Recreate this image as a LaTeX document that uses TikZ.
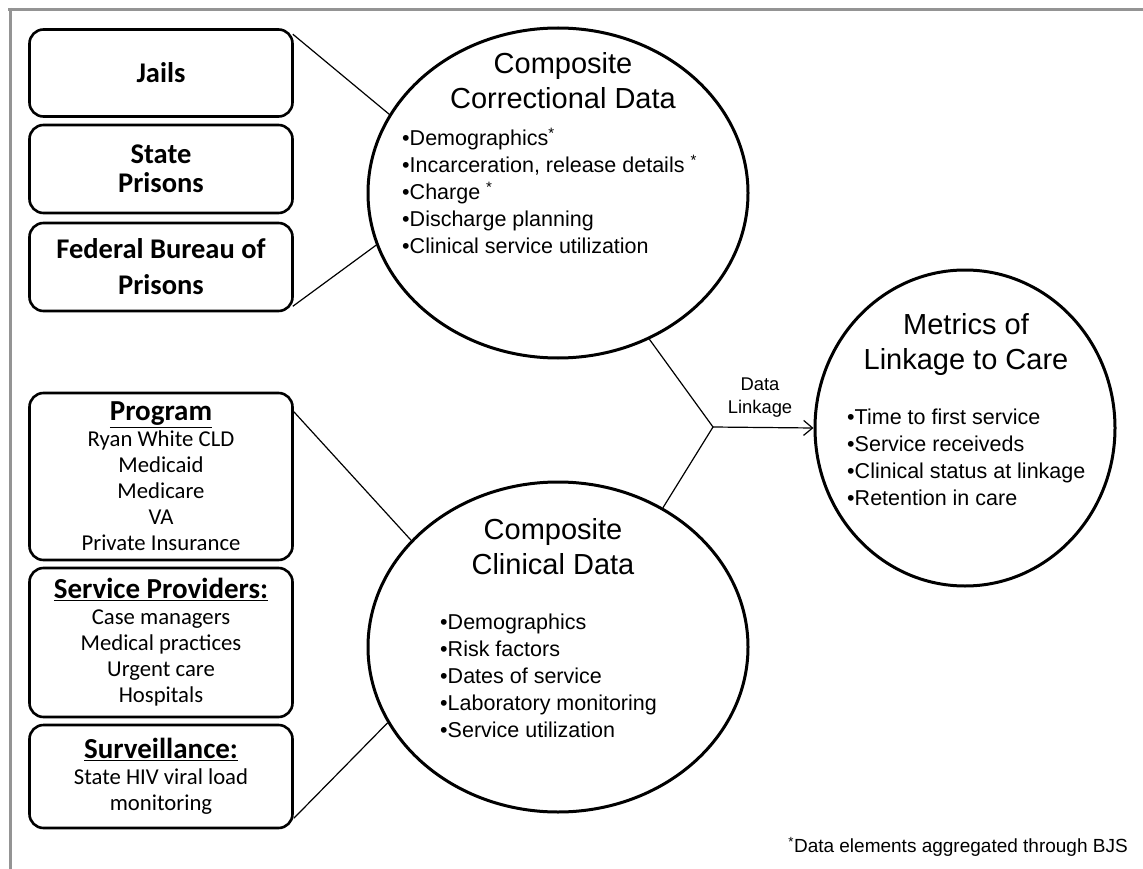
\documentclass[tikz,border=0pt]{standalone}
\usepackage{fontspec}
\setmainfont{Liberation Sans}
\newfontfamily\boxfont{Carlito}
\usetikzlibrary{shapes.geometric,arrows.meta}

\newlength{\du}
\setlength{\du}{1pt}

\tikzset{
  srcbox/.style={draw, line width=2.6\du, rounded corners=14\du, minimum width=263\du,
    inner sep=0pt, align=center, font=\boxfont\fontsize{22.7}{26}\selectfont},
  boldbox/.style={srcbox, font=\boxfont\bfseries\fontsize{28.5}{26}\selectfont},
  blob/.style={ellipse, draw, line width=3\du, inner sep=0pt},
  blobtitle/.style={align=center, font=\fontsize{29}{35}\selectfont},
  items/.style={align=left, anchor=west, inner sep=0pt, font=\fontsize{21.5}{27}\selectfont},
  link/.style={line width=1.2\du},
}
\newcommand{\hd}[1]{{\bfseries\fontsize{29}{27}\selectfont\underline{#1}}}

\begin{document}
\begin{tikzpicture}[x=1\du,y=-1\du]
\useasboundingbox (0,0) rectangle (1143,869);
% frame
\definecolor{framecolor}{rgb}{0.58, 0.58, 0.58}
\draw[framecolor, line width=3\du] (8,10)--(1143,10);
\draw[framecolor, line width=3\du] (10,8)--(10,869);

% correctional sources
\node[boldbox, minimum height=87\du] (jails) at (161,73) {Jails};
\node[boldbox, minimum height=88\du] (state) at (161,169) {State\\[3pt] Prisons};
\node[boldbox, minimum height=88\du] (bop) at (161,267) {Federal Bureau of\\[10pt] Prisons};

% clinical sources
\node[srcbox, minimum height=167\du] (program) at (161,476.5) {\hd{Program}\\ Ryan White CLD\\ Medicaid\\ Medicare\\ VA\\ Private Insurance};
\node[srcbox, minimum height=149\du] (providers) at (161,642.5) {\hd{Service Providers:}\\ Case managers\\ Medical practices\\ Urgent care\\ Hospitals};
\node[srcbox, minimum height=103\du] (surv) at (161,776.5) {\hd{Surveillance:}\\ State HIV viral load\\ monitoring};

% composite data
\node[blob, minimum width=380\du, minimum height=330\du] (corr) at (558,193) {};
\node[blobtitle] (corrtitle) at (563,80.5) {Composite\\ Correctional Data};
\node[items] (corritems) at (402,191) {•Demographics\textsuperscript{*}\\ •Incarceration, release details \textsuperscript{*}\\ •Charge \textsuperscript{*}\\ •Discharge planning\\ •Clinical service utilization};

\node[blob, minimum width=380\du, minimum height=330\du] (clin) at (558,647) {};
\node[blobtitle] (clintitle) at (553,546.5) {Composite\\ Clinical Data};
\node[items] (clinitems) at (440,675.5) {•Demographics\\ •Risk factors\\ •Dates of service\\ •Laboratory monitoring\\ •Service utilization};

% metrics
\node[blob, minimum width=300\du, minimum height=316\du] (metrics) at (965,428) {};
\node[blobtitle] (mettitle) at (966,344.5) {Metrics of\\ Linkage to Care};
\node[items] (metitems) at (847,457.5) {•Time to first service\\ •Service receiveds\\ •Clinical status at linkage\\ •Retention in care};

% connectors
\draw[link] ([xshift=-1\du,yshift=-6\du]jails.north east) -- (corr.155);
\draw[link] ([xshift=-1\du,yshift=6\du]bop.south east) -- (corr.196);
\draw[link] ([yshift=-20\du]program.north east) -- (clin.144);
\draw[link] ([yshift=11\du]surv.south east) -- (clin.204);

\coordinate (hub) at (713,427);
\draw[link] (corr.302) -- (hub) -- (clin.53.5);
\draw[link, -{Straight Barb[length=9pt,width=15pt]}] (hub) -- (metrics.west);
\node[align=center, font=\fontsize{18.4}{23}\selectfont] (linklabel) at (760,398) {Data\\ Linkage};

% footnote
\node[anchor=east, inner sep=0pt, font=\fontsize{19}{22}\selectfont] (note) at (1128,847) {\textsuperscript{*}Data elements aggregated through BJS};
\end{tikzpicture}
\end{document}
